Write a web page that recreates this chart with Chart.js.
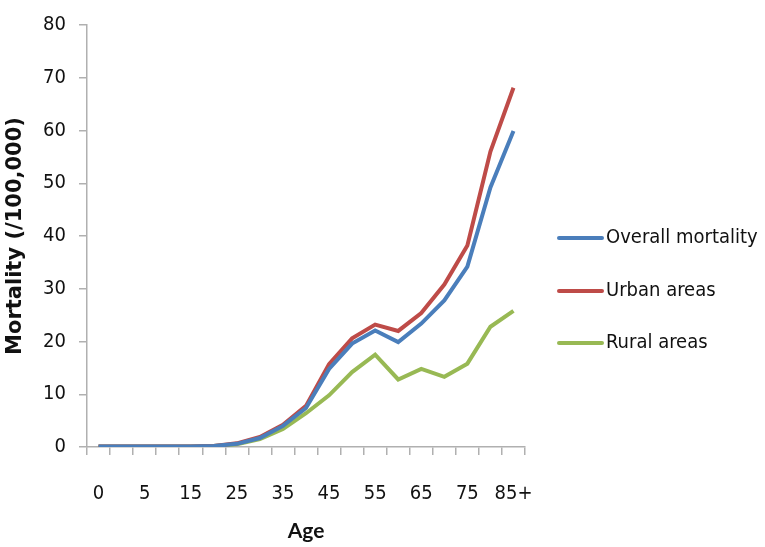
<!DOCTYPE html>
<html>
<head>
<meta charset="utf-8">
<script src="https://cdn.jsdelivr.net/npm/chart.js@4.4.1/dist/chart.umd.min.js"></script>
<style>
  html, body { margin: 0; padding: 0; background: #ffffff; }
  #wrap { width: 765px; height: 547px; position: relative; }
</style>
</head>
<body>
<div id="wrap"><canvas id="c" width="765" height="547"></canvas></div>
<script>
const ageGroups = ['0','1','5','10','15','20','25','30','35','40','45','50','55','60','65','70','75','80','85+'];
const overallMortality = [0.1,0.1,0.1,0.1,0.1,0.2,0.6,1.7,4.0,7.4,14.8,19.6,22.1,19.9,23.4,27.8,34.2,49.2,59.9];
const urbanAreas       = [0.1,0.1,0.1,0.1,0.1,0.2,0.7,1.9,4.2,7.8,15.7,20.6,23.2,22.0,25.4,30.8,38.2,56.0,68.1];
const ruralAreas       = [0.1,0.1,0.1,0.1,0.1,0.2,0.5,1.5,3.4,6.4,9.8,14.2,17.5,12.8,14.8,13.3,15.8,22.8,25.8];
const yTicks = [0,10,20,30,40,50,60,70,80];

const FONT = '"DejaVu Sans Condensed", Lato, sans-serif';
const TITLE_FONT = '"DejaVu Sans", Lato, sans-serif';
const AXIS_GRAY = '#b0b0b0';
const TEXT = '#111111';

const legendPlugin = {
  id: 'sideLegend',
  afterDraw(chart) {
    const ctx = chart.ctx;
    const ys = [238, 291, 343];
    ctx.save();
    chart.data.datasets.forEach((ds, i) => {
      const y = ys[i];
      ctx.strokeStyle = ds.borderColor;
      ctx.lineWidth = 4;
      ctx.lineCap = 'round';
      ctx.beginPath();
      ctx.moveTo(559, y);
      ctx.lineTo(602, y);
      ctx.stroke();
      ctx.fillStyle = TEXT;
      ctx.font = '20px ' + FONT;
      ctx.textBaseline = 'middle';
      ctx.textAlign = 'left';
      ctx.fillText(ds.label, 606, y);
    });
    ctx.restore();
  }
};

new Chart(document.getElementById('c'), {
  type: 'line',
  data: {
    labels: ageGroups,
    datasets: [
      { label: 'Overall mortality', data: overallMortality, borderColor: '#4a7ebb', backgroundColor: '#4a7ebb', borderWidth: 4, pointRadius: 0, tension: 0 },
      { label: 'Urban areas', data: urbanAreas, borderColor: '#be4b48', backgroundColor: '#be4b48', borderWidth: 4, pointRadius: 0, tension: 0 },
      { label: 'Rural areas', data: ruralAreas, borderColor: '#98b954', backgroundColor: '#98b954', borderWidth: 4, pointRadius: 0, tension: 0 }
    ]
  },
  options: {
    responsive: false,
    animation: false,
    layout: { padding: { top: 13, right: 240, left: 0, bottom: 0 } },
    plugins: { legend: { display: false }, tooltip: { enabled: false } },
    scales: {
      x: {
        type: 'category',
        offset: true,
        grid: { offset: true, drawOnChartArea: false, drawTicks: true, tickLength: 8, color: AXIS_GRAY, lineWidth: 1.5 },
        border: { color: AXIS_GRAY, width: 1.5 },
        ticks: {
          autoSkip: false, maxRotation: 0, padding: 27,
          color: TEXT, font: { family: FONT, size: 20 },
          callback: function(v, i) { return i % 2 === 0 ? ageGroups[i] : ''; }
        },
        title: { display: true, text: 'Age', color: TEXT, font: { family: 'Lato, sans-serif', size: 21, weight: 'bold' }, padding: { top: 4, bottom: 3 } },
        afterFit: function(s) { s.height = 100; }
      },
      y: {
        min: 0, max: 80,
        afterBuildTicks: function(s) { s.ticks = yTicks.map(v => ({ value: v })); },
        grid: { drawOnChartArea: false, drawTicks: true, tickLength: 8, color: AXIS_GRAY, lineWidth: 1.5 },
        border: { color: AXIS_GRAY, width: 1.5 },
        ticks: { padding: 13, color: TEXT, font: { family: FONT, size: 20 } },
        title: { display: true, text: 'Mortality (/100,000)', color: TEXT, font: { family: TITLE_FONT, size: 21, weight: 'bold' }, padding: { top: 3, bottom: 4 } },
        afterFit: function(s) { s.width = 87; }
      }
    }
  },
  plugins: [legendPlugin]
});
</script>
</body>
</html>
